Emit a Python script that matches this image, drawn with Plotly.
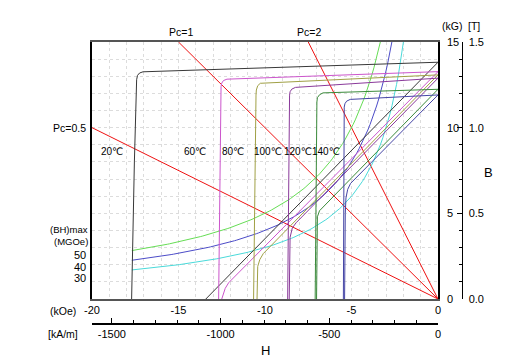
import plotly.graph_objects as go
import numpy as np

# ---------------- data ----------------
temp_labels = ["20℃", "60℃", "80℃", "100℃", "120℃", "140℃"]
curve_colors = ["#383838", "#cc55cc", "#a0a045", "#8a3a9a", "#3a8a3a", "#4545a5"]

# intrinsic (J-H) curves: H in kOe, B in kG
intr_h = [
    [0, -16.5, -17.05, -17.25, -17.37, -17.42, -17.55, -17.71],
    [0, -11.8, -12.2, -12.4, -12.5, -12.54, -12.68],
    [0, -9.9, -10.27, -10.42, -10.5, -10.52, -10.66],
    [0, -7.9, -8.24, -8.45, -8.55, -8.58, -8.69],
    [0, -6.3, -6.65, -6.85, -6.97, -7.0, -7.1],
    [0, -4.75, -5.07, -5.28, -5.38, -5.42, -5.47],
]
intr_b = [
    [13.82, 13.29, 13.26, 13.19, 13.05, 12.8, 8.0, 0],
    [13.27, 12.86, 12.83, 12.75, 12.6, 12.4, 0],
    [13.08, 12.62, 12.59, 12.45, 12.2, 11.9, 0],
    [12.89, 12.37, 12.35, 12.25, 12.1, 11.9, 0],
    [12.24, 12.05, 12.03, 11.92, 11.75, 11.5, 0],
    [11.91, 11.67, 11.65, 11.55, 11.4, 11.2, 0],
]
# normal (B-H) curves
norm_h = [
    [0, -13.42],
    [0, -12.1, -12.3, -12.42, -12.5],
    [0, -10.1, -10.3, -10.42, -10.46],
    [0, -8.2, -8.42, -8.55, -8.6],
    [0, -6.6, -6.85, -6.97, -7.02],
    [0, -5.05, -5.22, -5.32, -5.36, -5.4],
]
norm_b = [
    [13.82, 0],
    [13.27, 0.95, 0.62, 0.3, 0],
    [13.08, 2.65, 2.3, 1.9, 0],
    [12.89, 4.45, 4.15, 3.6, 0],
    [12.24, 5.45, 5.15, 4.8, 0],
    [11.91, 6.75, 6.4, 5.9, 5.0, 0],
]

bh_max = [50, 40, 30]                      # MGOe
bh_colors = ["#66dd55", "#4c4cc8", "#4adada"]
bh_start_h = -17.7

pc_values = [0.5, 1, 2]
pc_labels = ["Pc=0.5", "Pc=1", "Pc=2"]

koe_ticks = [-20, -15, -10, -5, 0]
kam_ticks = [-1500, -1000, -500, 0]
kg_ticks = [0, 5, 10, 15]
t_ticks = [0, 0.5, 1.0, 1.5]
t_ticktext = ["0.0", "0.5", "1.0", "1.5"]

H_MIN, H_MAX = -20, 0
B_MIN, B_MAX = 0, 15
KAM_PER_KOE = 79.5775

FONT = "Liberation Sans, Arial, DejaVu Sans, sans-serif"

fig = go.Figure()

# load lines
for pc in pc_values:
    h_end = max(H_MIN, -B_MAX / pc)
    fig.add_trace(go.Scatter(x=[0, h_end], y=[0, -pc * h_end], mode="lines",
                             line=dict(color="#ee1111", width=1), hoverinfo="skip",
                             showlegend=False))

# iso-energy hyperbolas
for bh, col in zip(bh_max, bh_colors):
    hh = np.linspace(bh_start_h, -bh / B_MAX, 120)
    fig.add_trace(go.Scatter(x=hh, y=-bh / hh, mode="lines",
                             line=dict(color=col, width=1), hoverinfo="skip",
                             showlegend=False))

# demagnetisation curves
for i, col in enumerate(curve_colors):
    fig.add_trace(go.Scatter(x=norm_h[i], y=norm_b[i], mode="lines",
                             line=dict(color=col, width=1), showlegend=False))
    fig.add_trace(go.Scatter(x=intr_h[i], y=intr_b[i], mode="lines",
                             line=dict(color=col, width=1), showlegend=False))

# invisible traces to hold secondary axes
fig.add_trace(go.Scatter(x=[-1000], y=[5], xaxis="x2", yaxis="y", mode="markers",
                         marker=dict(opacity=0), hoverinfo="skip", showlegend=False))
fig.add_trace(go.Scatter(x=[-10], y=[0.5], xaxis="x", yaxis="y2", mode="markers",
                         marker=dict(opacity=0), hoverinfo="skip", showlegend=False))

# ---------------- layout ----------------
W, H = 509, 360
ML, MR, MT, MB = 92, 30, 42, 36
PW = W - ML - MR          # paper width
PH = H - MT - MB          # paper height
plot_right = 438
plot_bottom = 299


def px(x):
    return (x - ML) / PW


def py(y):
    return (H - MB - y) / PH


x_dom_end = px(plot_right)
y_dom_start = py(plot_bottom)

grid = dict(showgrid=True, gridcolor="#dcdcdc", griddash="dot", gridwidth=1)

fig.update_layout(
    width=W, height=H,
    margin=dict(l=ML, r=MR, t=MT, b=MB, autoexpand=False),
    plot_bgcolor="white", paper_bgcolor="white",
    font=dict(family=FONT, size=11, color="black"),
    xaxis=dict(domain=[0, x_dom_end], range=[H_MIN, H_MAX], anchor="y",
               tickvals=koe_ticks, ticktext=[str(v) for v in koe_ticks], ticks="",
               showline=True, linecolor="#555555", linewidth=2, mirror=True,
               zeroline=False, minor=dict(dtick=1, **grid), **grid,
               tickfont=dict(size=11)),
    yaxis=dict(domain=[y_dom_start, 1], range=[B_MIN, B_MAX], anchor="x", side="right",
               tickvals=kg_ticks, ticktext=[str(v) for v in kg_ticks], ticks="",
               ticklabelstandoff=5,
               showline=True, linecolor="black", linewidth=1.5, mirror=True,
               zeroline=False, minor=dict(dtick=1, **grid), **grid,
               tickfont=dict(size=11)),
    xaxis2=dict(overlaying="x", anchor="free", position=0, side="bottom",
                range=[H_MIN * KAM_PER_KOE, H_MAX * KAM_PER_KOE],
                tickvals=kam_ticks, ticktext=[str(v) for v in kam_ticks],
                ticks="inside", ticklen=5, tickcolor="black", tickwidth=1,
                minor=dict(dtick=100, tick0=0, ticks="inside", ticklen=3,
                           tickcolor="black", showgrid=False),
                showline=True, linecolor="black", linewidth=1.5,
                showgrid=False, zeroline=False, tickfont=dict(size=11)),
    yaxis2=dict(overlaying="y", anchor="free", position=px(461.5), side="right",
                range=[B_MIN / 10, B_MAX / 10],
                tickvals=t_ticks, ticktext=t_ticktext,
                ticks="inside", ticklen=5, tickcolor="black", tickwidth=1,
                ticklabelstandoff=4,
                minor=dict(dtick=0.1, tick0=0, ticks="inside", ticklen=3,
                           tickcolor="black", showgrid=False),
                showline=True, linecolor="black", linewidth=1,
                showgrid=False, zeroline=False, tickfont=dict(size=11)),
)

ann = []


def add_px(text, x, y, size=10.5, xanchor="center"):
    ann.append(dict(text=text, x=px(x), y=py(y), xref="paper", yref="paper",
                    xanchor=xanchor, yanchor="middle", showarrow=False,
                    font=dict(size=size, family=FONT, color="black")))


add_px(pc_labels[1], 181, 32)
add_px(pc_labels[2], 309, 32)
add_px(pc_labels[0], 88, 128, xanchor="right")
add_px("(kG)", 452, 26.5)
add_px("[T]", 474, 26.5)
add_px("B", 488, 173, size=13)
add_px("H", 265, 350, size=13)
add_px("(kOe)", 63, 310.5)
add_px("[kA/m]", 63, 334)
add_px("(BH)max", 90, 229, size=9.5, xanchor="right")
add_px("(MGOe)", 90, 241.5, size=9.5, xanchor="right")
for lab, yy in zip(bh_max, [255, 266.7, 278.3]):
    add_px(str(lab), 88, yy, size=11, xanchor="right")

# temperature labels (pixel x centres)
for lab, xc in zip(temp_labels, [111.7, 195, 233, 268, 298, 326]):
    add_px(lab, xc, 151.7, size=10)

fig.update_layout(annotations=ann)

fig.write_html("out.html",
               config={"displayModeBar": False},
               post_script="document.body.style.margin='0';document.body.style.padding='0';")
